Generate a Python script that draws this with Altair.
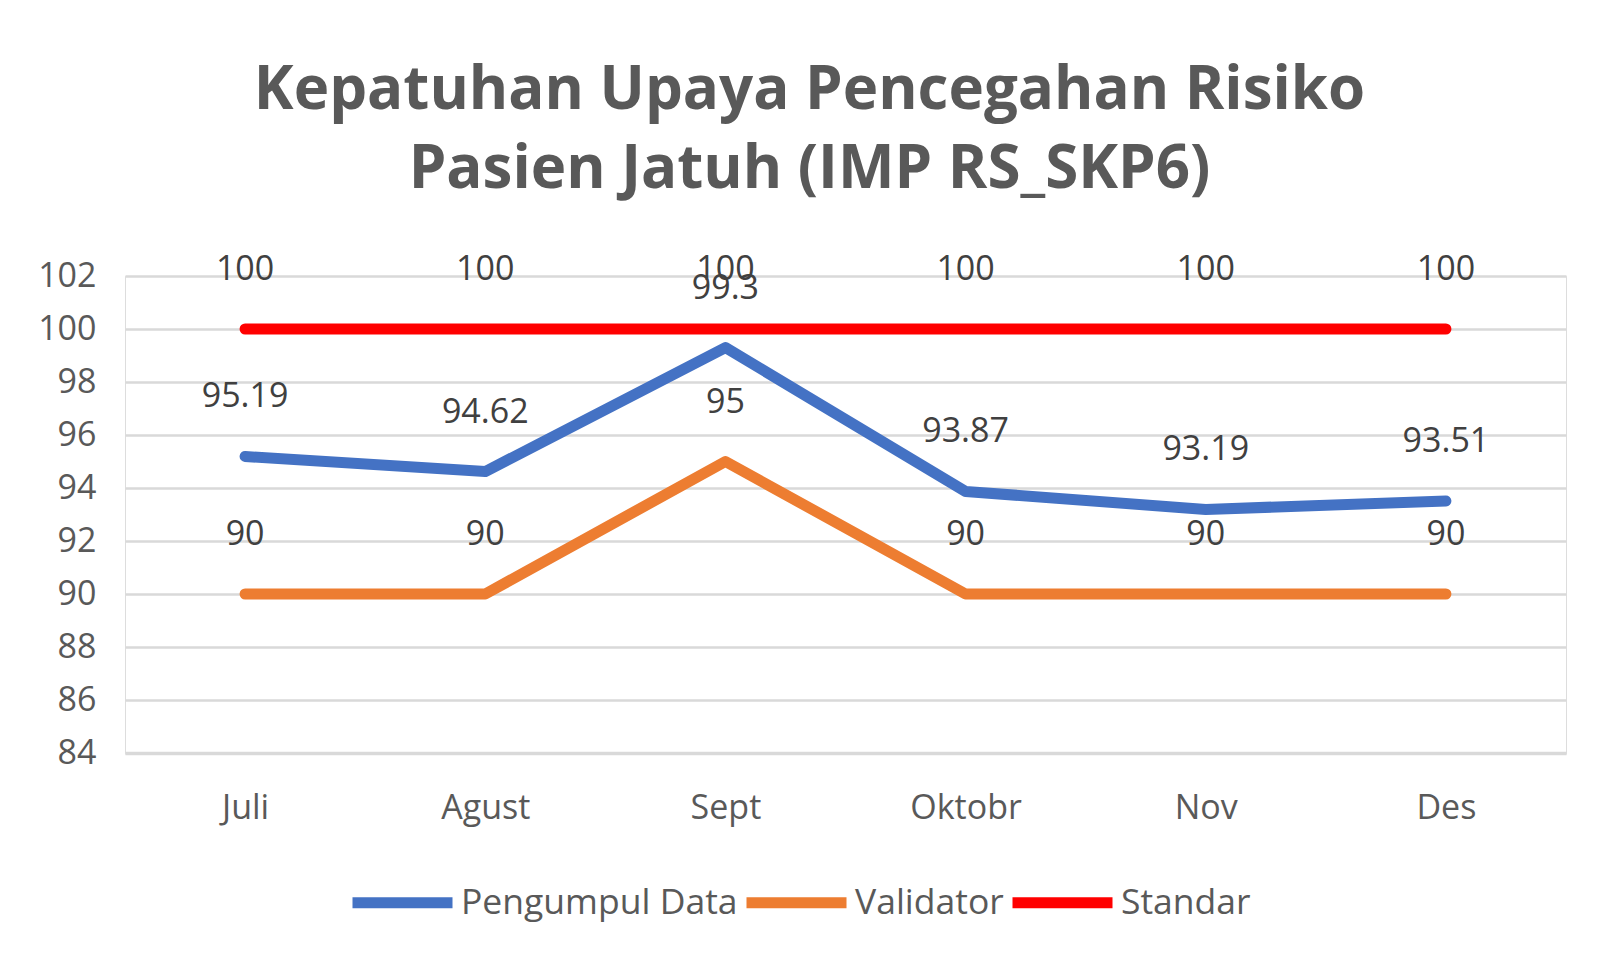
import altair as alt
import pandas as pd

months = ["Juli", "Agust", "Sept", "Oktobr", "Nov", "Des"]
pengumpul = [95.19, 94.62, 99.3, 93.87, 93.19, 93.51]
validator = [90, 90, 95, 90, 90, 90]
standar = [100, 100, 100, 100, 100, 100]
series = ["Pengumpul Data", "Validator", "Standar"]
colors = ["#4472C4", "#ED7D31", "#FF0000"]
y_ticks = [84, 86, 88, 90, 92, 94, 96, 98, 100, 102]

rows = []
for s, vals in zip(series, [pengumpul, validator, standar]):
    for m, v in zip(months, vals):
        rows.append({"bulan": m, "nilai": v, "seri": s, "label": f"{v:g}"})
df = pd.DataFrame(rows)

FONT = "Open Sans"
GREY = "#595959"

x = alt.X("bulan:N", sort=months,
          scale=alt.Scale(type="point", padding=0.5),
          axis=alt.Axis(title=None, labelAngle=0, ticks=False, grid=False,
                        domainColor="#d9d9d9", domainWidth=3.5,
                        labelFontSize=34, labelColor=GREY, labelFont=FONT,
                        labelBaseline="alphabetic", labelPadding=65))
y = alt.Y("nilai:Q",
          scale=alt.Scale(domain=[84, 102], nice=False, zero=False),
          axis=alt.Axis(title=None, values=y_ticks, domain=False, ticks=False,
                        gridColor="#d9d9d9", gridWidth=2.5,
                        labelFontSize=34, labelColor=GREY, labelFont=FONT,
                        labelPadding=29))
color = alt.Color("seri:N", sort=series,
                  scale=alt.Scale(domain=series, range=colors),
                  legend=alt.Legend(title=None, orient="none", direction="horizontal",
                                    legendX=222, legendY=571,
                                    symbolType="stroke", symbolStrokeWidth=11,
                                    symbolSize=10000, labelFontSize=35.5,
                                    labelColor=GREY, labelFont=FONT, labelLimit=500,
                                    labelOffset=3, columnPadding=-14, padding=0))

lines = alt.Chart(df).mark_line(strokeWidth=11, strokeCap="round", strokeJoin="round").encode(
    x=x, y=y, color=color, order=alt.Order("seri:N"))
labels = alt.Chart(df).mark_text(fontSize=34, color="#404040", font=FONT,
                                 baseline="alphabetic", dy=-49).encode(
    x=x, y=y, text="label:N")

chart = alt.layer(lines, labels).properties(
    width=1441, height=477,
    padding={"left": 117, "top": 268, "right": 45, "bottom": 210},
    autosize=alt.AutoSizeParams(type="none"),
    title=alt.TitleParams(
        text=["Kepatuhan Upaya Pencegahan Risiko", "Pasien Jatuh (IMP RS_SKP6)"],
        fontSize=60, fontWeight="bold", color=GREY, font=FONT,
        lineHeight=79, anchor="middle", dx=-36, dy=78, offset=70, baseline="bottom"),
).configure_view(stroke=None).configure(background="white")

chart.save("out.html", embed_options={"renderer": "svg", "actions": False})
